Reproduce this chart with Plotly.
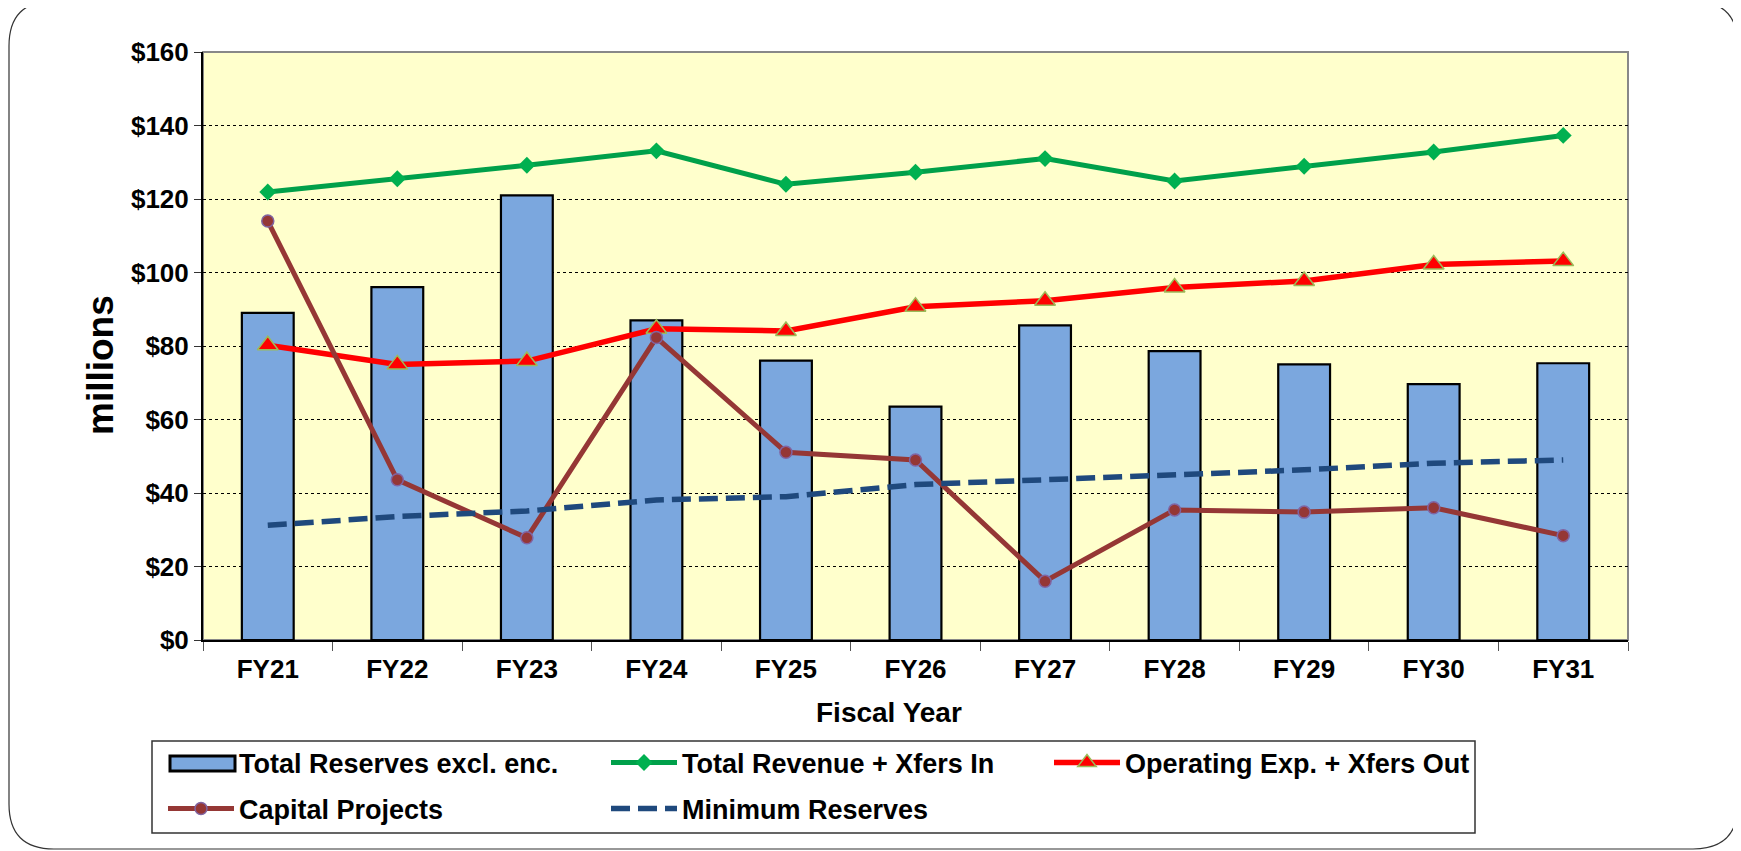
import plotly.graph_objects as go

years = ["FY21", "FY22", "FY23", "FY24", "FY25", "FY26", "FY27", "FY28", "FY29", "FY30", "FY31"]
total_reserves = [89, 96, 121, 87, 76, 63.5, 85.6, 78.6, 75, 69.6, 75.3]
total_revenue = [121.9, 125.5, 129.2, 133.1, 124, 127.3, 131, 124.9, 128.9, 132.8, 137.3]
operating_exp = [80.2, 75, 75.9, 84.7, 84.1, 90.7, 92.3, 95.9, 97.7, 102.2, 103.1]
capital_projects = [114, 43.6, 27.8, 82.3, 51.1, 49, 16, 35.4, 34.8, 36, 28.4]
minimum_reserves = [31.2, 33.6, 35.1, 38.1, 39, 42.3, 43.6, 44.8, 46.3, 48.1, 49]
y_ticks = [0, 20, 40, 60, 80, 100, 120, 140, 160]
y_tick_labels = ["$" + str(v) for v in y_ticks]

FONT = "Liberation Sans"
BAR_COLOR = "#7BA7DE"

fig = go.Figure()
fig.add_trace(go.Bar(
    x=years, y=total_reserves, name="Total Reserves excl. enc.", showlegend=False,
    marker=dict(color=BAR_COLOR, line=dict(color="black", width=2.2)),
))
# legend entry for the bars; its wide bordered swatch is drawn as a shape below
fig.add_trace(go.Scatter(
    x=[None], y=[None], name="Total Reserves excl. enc.", mode="lines",
    line=dict(color="rgba(0,0,0,0)", width=0), legend="legend",
))
fig.add_trace(go.Scatter(
    x=years, y=total_revenue, name="Total Revenue + Xfers In", mode="lines+markers",
    line=dict(color="#00A04A", width=5), legend="legend",
    marker=dict(symbol="diamond", size=13, color="#00B050", line=dict(width=0)),
))
fig.add_trace(go.Scatter(
    x=years, y=operating_exp, name="Operating Exp. + Xfers Out", mode="lines+markers",
    line=dict(color="#FF0000", width=5.5), legend="legend",
    marker=dict(symbol="triangle-up", size=18, color="#FF0000", line=dict(color="#9BBB59", width=1.5)),
))
fig.add_trace(go.Scatter(
    x=years, y=capital_projects, name="Capital Projects", mode="lines+markers",
    line=dict(color="#953735", width=5), legend="legend2",
    marker=dict(symbol="circle", size=12, color="#953735", line=dict(color="#8064A2", width=1.5)),
))
fig.add_trace(go.Scatter(
    x=years, y=minimum_reserves, name="Minimum Reserves", mode="lines",
    line=dict(color="#1F497D", width=5.5, dash="19px,8px"), legend="legend2",
))

# page is offset by the browser's 8px body margin
OFF = 8
W, H = 1741, 851
L, R = 203 - OFF, W - (1628 - OFF)
T, B = 52 - OFF, H - (640 - OFF)
pw, ph = W - L - R, H - T - B

def px(x):
    return (x - OFF - L) / pw

def py(y):
    return (H - B - (y - OFF)) / ph

# rounded outer frame
x0, x1, y0, y1 = px(9), px(1738), py(1), py(849)
rx, ry = 45 / pw, 45 / ph
path = (f"M {x0+rx},{y0} L {x1-rx},{y0} Q {x1},{y0} {x1},{y0-ry} "
        f"L {x1},{y1+ry} Q {x1},{y1} {x1-rx},{y1} L {x0+rx},{y1} "
        f"Q {x0},{y1} {x0},{y1+ry} L {x0},{y0-ry} Q {x0},{y0} {x0+rx},{y0} Z")
shapes = [
    dict(type="path", xref="paper", yref="paper", path=path,
         line=dict(color="#333333", width=1.2), fillcolor="rgba(0,0,0,0)", layer="below"),
    dict(type="rect", xref="paper", yref="paper", x0=0, x1=1, y0=0, y1=1,
         line=dict(color="#888888", width=2), layer="below"),
    # legend box
    dict(type="rect", xref="paper", yref="paper", x0=px(152), x1=px(1475), y0=py(741), y1=py(833),
         line=dict(color="#333333", width=1.5), fillcolor="white", layer="below"),
    # bar legend swatch
    dict(type="rect", xref="paper", yref="paper", x0=px(170), x1=px(235), y0=py(756), y1=py(771),
         line=dict(color="black", width=3), fillcolor=BAR_COLOR, layer="above"),
]

legend_common = dict(
    orientation="h", xanchor="left", yanchor="middle",
    bgcolor="rgba(0,0,0,0)", borderwidth=0,
    font=dict(family=FONT, size=27, color="black", weight="bold"),
    entrywidth=362, entrywidthmode="pixels", itemwidth=66, traceorder="normal",
)

fig.update_layout(
    width=W, height=H,
    margin=dict(l=L, r=R, t=T, b=B),
    paper_bgcolor="white",
    plot_bgcolor="#FFFFCC",
    bargap=0.6,
    font=dict(family=FONT, color="black"),
    shapes=shapes,
    showlegend=True,
    legend=dict(x=px(163), y=py(763), **legend_common),
    legend2=dict(x=px(163), y=py(809), **legend_common),
    annotations=[
        dict(text="millions", xref="paper", yref="paper", x=px(100), y=py(365),
             xanchor="center", yanchor="middle", textangle=-90, showarrow=False,
             font=dict(family=FONT, size=37, weight="bold", color="black")),
        dict(text="Fiscal Year", xref="paper", yref="paper", x=px(889), y=py(712),
             xanchor="center", yanchor="middle", showarrow=False,
             font=dict(family=FONT, size=28, weight="bold", color="black")),
    ],
)
fig.update_xaxes(
    type="category", categoryorder="array", categoryarray=years,
    range=[-0.5, 10.5],
    showline=True, linecolor="black", linewidth=2,
    ticks="outside", tickson="boundaries", ticklen=9, tickcolor="#555555",
    tickfont=dict(family=FONT, size=26, weight="bold"),
    ticklabelstandoff=5,
    showgrid=False,
)
fig.update_yaxes(
    range=[0, 160], tickvals=y_ticks, ticktext=y_tick_labels,
    showline=True, linecolor="black", linewidth=2,
    ticks="outside", ticklen=7, tickcolor="#333333",
    tickfont=dict(family=FONT, size=26, weight="bold"),
    showgrid=True, gridcolor="black", gridwidth=1, griddash="dot",
    zeroline=False,
)

fig.write_html("out.html")
